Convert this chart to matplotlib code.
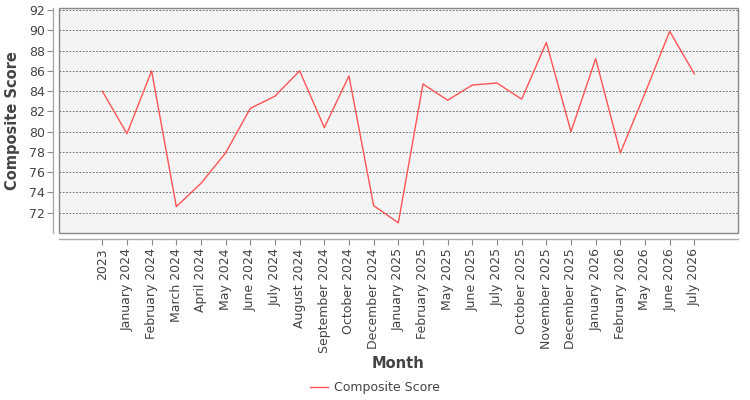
import matplotlib
matplotlib.use("Agg")
import matplotlib.pyplot as plt
from matplotlib.patches import Rectangle

months = ["2023", "January 2024", "February 2024", "March 2024", "April 2024",
          "May 2024", "June 2024", "July 2024", "August 2024", "September 2024",
          "October 2024", "December 2024", "January 2025", "February 2025",
          "May 2025", "June 2025", "July 2025", "October 2025", "November 2025",
          "December 2025", "January 2026", "February 2026", "May 2026",
          "June 2026", "July 2026"]
scores = [84.0, 79.8, 86.0, 72.6, 74.9, 77.9, 82.3, 83.5, 86.0, 80.4,
          85.5, 72.7, 71.0, 84.7, 83.1, 84.6, 84.8, 83.2, 88.8, 80.0,
          87.2, 77.9, 83.8, 89.9, 85.7]
y_ticks = [72, 74, 76, 78, 80, 82, 84, 86, 88, 90, 92]

plt.rcParams['font.family'] = ['DejaVu Sans']
text_color = "#444444"

fig = plt.figure(figsize=(7.5, 4.0), dpi=100)
ax = fig.add_axes([59/750, (400-233)/400, (738-59)/750, (233-8)/400])
ax.set_facecolor("#f4f4f4")

x = list(range(len(months)))
line, = ax.plot(x, scores, color="#ff5555", linewidth=1.0, label="Composite Score")

ax.set_xlim(-1.755, len(months) - 1 + 1.77)
ax.set_ylim(70.0, 92.2)
ax.set_yticks(y_ticks)
ax.set_xticks(x)
ax.set_xticklabels(months)
ax.tick_params(axis='y', labelsize=9, labelcolor=text_color, length=4, color="#888888", pad=2)
ax.tick_params(axis='x', labelsize=9, labelcolor=text_color, length=4, color="#888888",
               pad=3, labelrotation=90)
for lab in ax.get_xticklabels():
    lab.set_ha('center')
    lab.set_va('top')

ax.grid(axis='y', color="#555555", linestyle=(0, (2, 2)), linewidth=0.6)
ax.set_axisbelow(True)

for s in ['top', 'right']:
    ax.spines[s].set_visible(False)
for s in ['left', 'bottom']:
    ax.spines[s].set_position(('outward', 4))
    ax.spines[s].set_color("#aaaaaa")
    ax.spines[s].set_linewidth(1.0)

ax.add_patch(Rectangle((0, 0), 1, 1, transform=ax.transAxes, fill=False,
                       edgecolor="#888888", linewidth=1.0, clip_on=False, zorder=5))

ax.set_ylabel("Composite Score", fontsize=10.5, fontweight='bold', color=text_color)
ax.yaxis.set_label_coords((20 - 59) / 679, 0.5)
fig.text(398/750, 1 - 364/400, "Month", fontsize=10.5, fontweight='bold',
         color=text_color, ha='center', va='center')

fig.legend(handles=[line], loc='center', bbox_to_anchor=(375/750, 1 - 388/400),
           frameon=False, fontsize=9, handlelength=1.4, handletextpad=0.5,
           labelcolor=text_color)

fig.savefig("out.png", dpi=100)
